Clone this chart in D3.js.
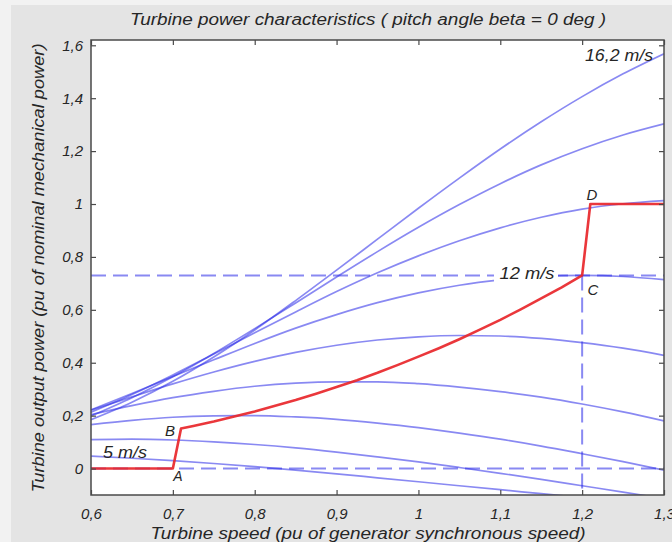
<!DOCTYPE html>
<html>
<head>
<meta charset="utf-8">
<script src="https://cdn.jsdelivr.net/npm/d3@7"></script>
<style>
  html, body { margin: 0; padding: 0; background: #f2f2f2; }
  svg { display: block; }
  text { font-family: "Liberation Sans", Arial, sans-serif; font-style: italic; fill: #262626; }
</style>
</head>
<body>
<svg id="chart" width="672" height="542"></svg>
<script>
// Turbine speed grid (pu of generator synchronous speed)
const turbineSpeed = [0.6, 0.65, 0.7, 0.75, 0.8, 0.85, 0.9, 0.95, 1.0, 1.05, 1.1, 1.15, 1.2, 1.25, 1.3];

// Turbine output power (pu) for each wind speed
const power5    = [0.047, 0.039, 0.030, 0.019, 0.007, -0.006, -0.020, -0.035, -0.050, -0.065, -0.080, -0.095, -0.110, -0.125, -0.140];
const power6_4  = [0.109, 0.111, 0.108, 0.101, 0.091, 0.078, 0.062, 0.044, 0.025, 0.004, -0.018, -0.041, -0.065, -0.089, -0.114];
const power7_8  = [0.166, 0.182, 0.194, 0.199, 0.200, 0.195, 0.186, 0.172, 0.155, 0.134, 0.111, 0.085, 0.056, 0.026, -0.006];
const power9_2  = [0.204, 0.238, 0.268, 0.292, 0.311, 0.323, 0.328, 0.328, 0.321, 0.308, 0.291, 0.270, 0.244, 0.214, 0.180];
const power10_6 = [0.221, 0.271, 0.320, 0.365, 0.405, 0.439, 0.466, 0.486, 0.498, 0.503, 0.501, 0.492, 0.476, 0.455, 0.428];
const power12   = [0.222, 0.284, 0.348, 0.411, 0.473, 0.531, 0.582, 0.627, 0.664, 0.693, 0.713, 0.726, 0.730, 0.726, 0.714];
const power13_4 = [0.213, 0.280, 0.354, 0.433, 0.513, 0.592, 0.669, 0.740, 0.804, 0.861, 0.910, 0.950, 0.981, 1.001, 1.013];
const power14_8 = [0.199, 0.268, 0.347, 0.435, 0.529, 0.626, 0.724, 0.820, 0.912, 0.998, 1.077, 1.148, 1.209, 1.261, 1.303];
const power16_2 = [0.185, 0.251, 0.330, 0.422, 0.524, 0.635, 0.750, 0.867, 0.984, 1.098, 1.208, 1.311, 1.406, 1.492, 1.568];

// Tracking characteristic A-B-C-D
const trackSpeed = [0.6, 0.7, 0.71, 0.725, 0.75, 0.775, 0.8, 0.825, 0.85, 0.875, 0.9, 0.925, 0.95, 0.975, 1.0,
                    1.025, 1.05, 1.075, 1.1, 1.125, 1.15, 1.175, 1.2, 1.21, 1.3];
const trackPower = [0, 0, 0.151, 0.161, 0.178, 0.197, 0.216, 0.237, 0.259, 0.283, 0.308, 0.334, 0.362, 0.392, 0.423,
                    0.455, 0.489, 0.525, 0.562, 0.602, 0.643, 0.685, 0.730, 1.0, 1.0];

// Reference levels: power at C, zero power, speed at C
const powerAtC = 0.73;
const zeroPower = 0;
const speedAtC = 1.2;

// Axis ticks
const xTicks = [0.6, 0.7, 0.8, 0.9, 1.0, 1.1, 1.2, 1.3];
const yTicks = [0, 0.2, 0.4, 0.6, 0.8, 1.0, 1.2, 1.4, 1.6];

const powerCurves = [power5, power6_4, power7_8, power9_2, power10_6, power12, power13_4, power14_8, power16_2];

const svg = d3.select("#chart");
const W = 672, H = 542;
const plot = { left: 91, right: 664, top: 40, bottom: 495 };

const x = d3.scaleLinear().domain([0.6, 1.3]).range([plot.left, plot.right]);
const y = d3.scaleLinear().domain([-0.1, 1.62]).range([plot.bottom, plot.top]);

const fmt = d3.formatLocale({ decimal: ",", thousands: ".", grouping: [3], currency: ["", ""] }).format("~g");

// Figure background
svg.append("rect").attr("x", 0).attr("y", 0).attr("width", W).attr("height", H).attr("fill", "#f2f2f2");
svg.append("rect").attr("x", 11).attr("y", 5).attr("width", W - 11).attr("height", H - 5).attr("fill", "#e4e4e4");

// Plot area
svg.append("rect")
  .attr("x", plot.left).attr("y", plot.top)
  .attr("width", plot.right - plot.left).attr("height", plot.bottom - plot.top)
  .attr("fill", "#ffffff");

svg.append("clipPath").attr("id", "plot-clip")
  .append("rect")
  .attr("x", plot.left).attr("y", plot.top)
  .attr("width", plot.right - plot.left).attr("height", plot.bottom - plot.top);

const body = svg.append("g").attr("clip-path", "url(#plot-clip)");

const blue = "rgb(40,40,232)";

// Dashed guide lines
const dash = { stroke: blue, "stroke-opacity": 0.55, "stroke-width": 2, "stroke-dasharray": "15,7", fill: "none" };
function dashed(x1, y1, x2, y2) {
  const l = body.append("line").attr("x1", x1).attr("y1", y1).attr("x2", x2).attr("y2", y2);
  Object.entries(dash).forEach(([k, v]) => l.attr(k, v));
}
dashed(x(0.6), y(powerAtC), x(1.3), y(powerAtC));
dashed(x(0.6), y(zeroPower), x(1.3), y(zeroPower));
dashed(x(speedAtC), y(powerAtC), x(speedAtC), y(-0.1));

// Power curves
const curveLine = d3.line()
  .x((d, i) => x(turbineSpeed[i]))
  .y(d => y(d))
  .curve(d3.curveMonotoneX);

body.selectAll("path.wind")
  .data(powerCurves)
  .join("path")
  .attr("class", "wind")
  .attr("d", curveLine)
  .attr("fill", "none")
  .attr("stroke", blue)
  .attr("stroke-opacity", 0.55)
  .attr("stroke-width", 1.7);

// Label box drawn over the curves
svg.append("rect").attr("x", 494).attr("y", 263).attr("width", 64).attr("height", 20).attr("fill", "#ffffff");

// Tracking characteristic
const trackLine = d3.line()
  .x((d, i) => x(trackSpeed[i]))
  .y(d => y(d));
body.append("path")
  .attr("d", trackLine(trackPower))
  .attr("fill", "none")
  .attr("stroke", "#e8262a")
  .attr("stroke-opacity", 0.92)
  .attr("stroke-width", 2.6)
  .attr("stroke-linejoin", "round");

// Frame
svg.append("rect")
  .attr("x", plot.left).attr("y", plot.top)
  .attr("width", plot.right - plot.left).attr("height", plot.bottom - plot.top)
  .attr("fill", "none").attr("stroke", "#4a4a4a").attr("stroke-width", 1.5);

// Axes (ticks pointing inward)
function styleAxis(g) {
  g.select(".domain").remove();
  g.selectAll(".tick line").attr("stroke", "#4a4a4a").attr("stroke-width", 1.2);
  g.selectAll(".tick text").attr("font-size", 15).attr("fill", "#262626")
    .attr("font-family", "Liberation Sans, Arial, sans-serif").attr("font-style", "italic");
}
svg.append("g").attr("transform", `translate(0,${plot.bottom})`)
  .call(d3.axisBottom(x).tickValues(xTicks).tickSizeInner(-5).tickSizeOuter(0).tickPadding(13).tickFormat(fmt))
  .call(styleAxis);
svg.append("g").attr("transform", `translate(0,${plot.top})`)
  .call(d3.axisTop(x).tickValues(xTicks).tickSizeInner(-5).tickSizeOuter(0).tickFormat(""))
  .call(styleAxis);
svg.append("g").attr("transform", `translate(${plot.left},0)`)
  .call(d3.axisLeft(y).tickValues(yTicks).tickSizeInner(-5).tickSizeOuter(0).tickPadding(8).tickFormat(fmt))
  .call(styleAxis);
svg.append("g").attr("transform", `translate(${plot.right},0)`)
  .call(d3.axisRight(y).tickValues(yTicks).tickSizeInner(-5).tickSizeOuter(0).tickFormat(""))
  .call(styleAxis);

// Titles
svg.append("text")
  .attr("x", 368).attr("y", 25)
  .attr("text-anchor", "middle").attr("font-size", 16)
  .attr("textLength", 476).attr("lengthAdjust", "spacingAndGlyphs")
  .text("Turbine power characteristics ( pitch angle beta = 0 deg )");

svg.append("text")
  .attr("x", 368).attr("y", 539)
  .attr("text-anchor", "middle").attr("font-size", 16)
  .attr("textLength", 435).attr("lengthAdjust", "spacingAndGlyphs")
  .text("Turbine speed (pu of generator synchronous speed)");

svg.append("text")
  .attr("transform", "translate(44,268) rotate(-90)")
  .attr("text-anchor", "middle").attr("font-size", 16)
  .attr("textLength", 449).attr("lengthAdjust", "spacingAndGlyphs")
  .text("Turbine output power (pu of nominal mechanical power)");

// Annotations
function note(txt, cx, by, size, len, color) {
  const t = svg.append("text")
    .attr("x", cx).attr("y", by)
    .attr("text-anchor", "middle").attr("font-size", size)
    .text(txt);
  if (len) t.attr("textLength", len).attr("lengthAdjust", "spacingAndGlyphs");
  if (color) t.attr("fill", color);
}
note("16,2 m/s", 619, 61, 16, 68);
note("12 m/s", 527, 279, 16, 55);
note("5 m/s", 125, 458, 16, 44);
note("B", 170, 436, 15);
note("C", 593, 295, 15);
note("D", 592, 200, 15);
note("A", 178, 481, 14, null, "#8a8a8a");
</script>
</body>
</html>
